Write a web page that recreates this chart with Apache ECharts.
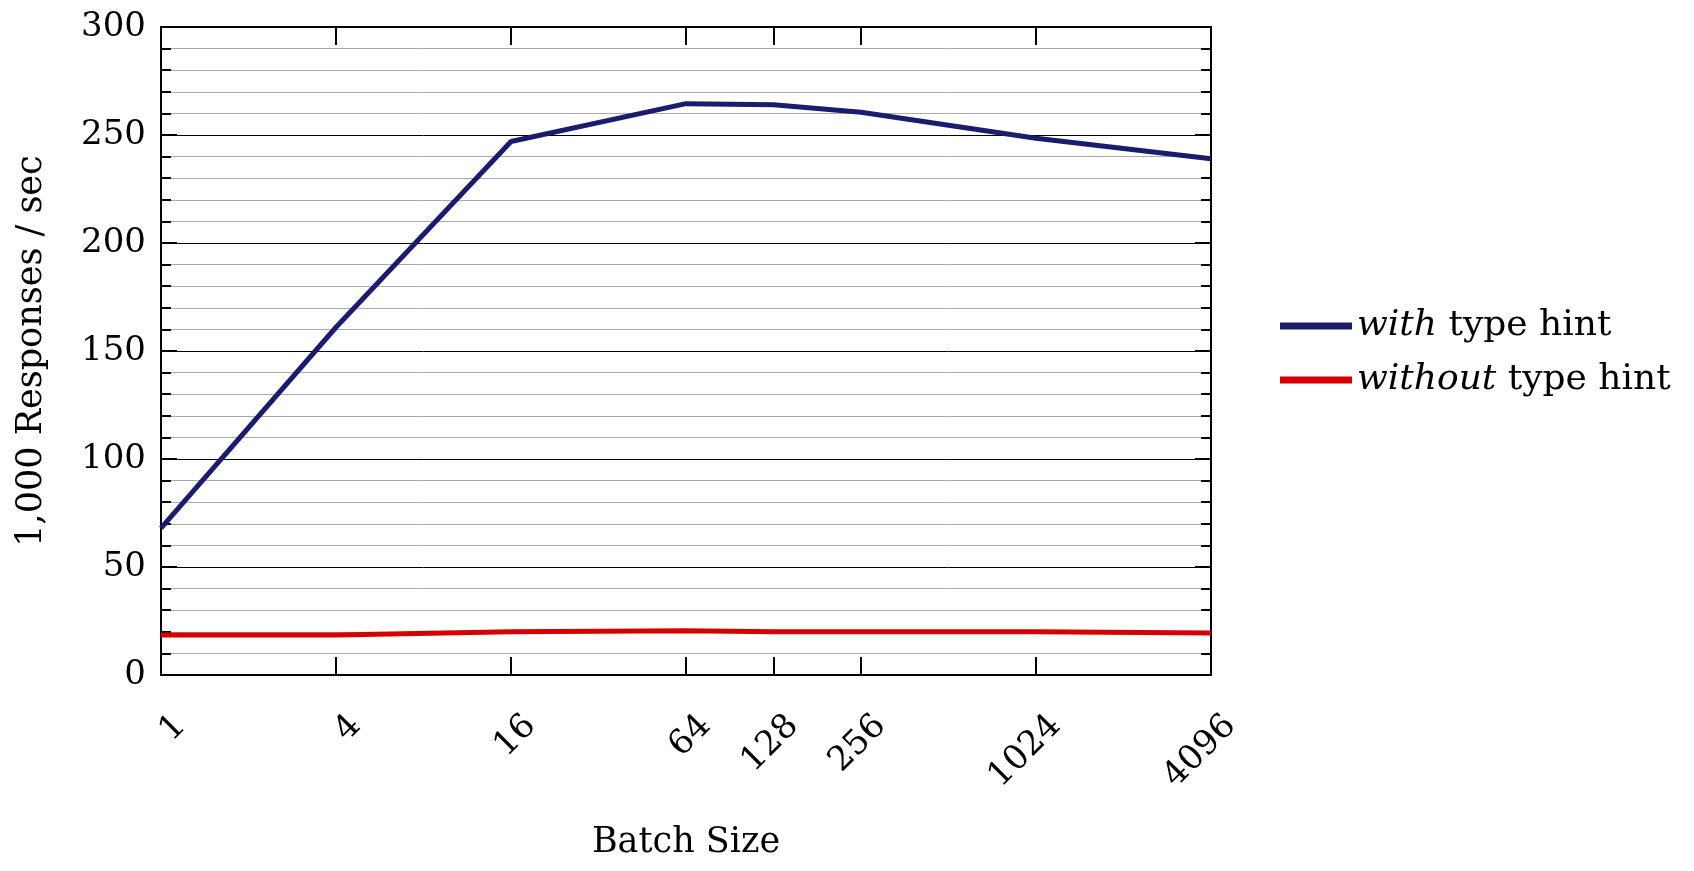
<!DOCTYPE html>
<html>
<head>
<meta charset="utf-8">
<script src="https://cdn.jsdelivr.net/npm/echarts@6/dist/echarts.min.js"></script>
<style>
  html, body { margin: 0; padding: 0; background: #fff; }
  #chart { width: 1694px; height: 871px; }
</style>
</head>
<body>
<div id="chart"></div>
<script>
const batchSizes = [1, 4, 16, 64, 128, 256, 1024, 4096]
const withHint = [68, 161, 247, 264.5, 264, 260.5, 248.5, 239]
const withoutHint = [18.5, 18.5, 20, 20.5, 20, 20, 20, 19.5]
const xTickValues = [1, 4, 16, 64, 128, 256, 1024, 4096]
const seriesNames = ['with type hint', 'without type hint']

const font = 'DejaVu Serif'
const chart = echarts.init(document.getElementById('chart'))

const pairs = (ys) => batchSizes.map((x, i) => [x, ys[i]])

// log2 x axis, used twice (bottom with labels, top as frame)
function xAxisOf(position, withLabels) {
  return {
    type: 'log',
    logBase: 2,
    min: 1,
    max: 4096,
    position,
    axisLine: { show: true, onZero: false, lineStyle: { color: '#000', width: 2 } },
    axisTick: {
      show: true,
      inside: true,
      length: 18,
      customValues: xTickValues.slice(),
      lineStyle: { color: '#000', width: 2 },
    },
    minorTick: { show: false },
    splitLine: { show: false },
    axisLabel: withLabels
      ? {
          rotate: 45,
          align: 'right',
          verticalAlign: 'top',
          lineHeight: 56,
          margin: 26,
          fontFamily: font,
          fontSize: 34,
          color: '#000',
          customValues: xTickValues.slice(),
          formatter: (v) => String(Math.round(v)),
        }
      : { show: false },
  }
}

function yAxisOf(position) {
  return {
    type: 'value',
    min: 0,
    max: 300,
    interval: 50,
    position,
    axisLine: { show: true, onZero: false, lineStyle: { color: '#000', width: 2 } },
    axisTick: { show: true, inside: true, length: 16, lineStyle: { color: '#000', width: 2 } },
    minorTick: { show: true, splitNumber: 5, length: 10, lineStyle: { color: '#000', width: 2 } },
  }
}

const bottomX = xAxisOf('bottom', true)
bottomX.name = 'Batch Size'
bottomX.nameLocation = 'middle'
bottomX.nameGap = 150
bottomX.nameTextStyle = { fontFamily: font, fontSize: 35, color: '#000' }

const leftY = yAxisOf('left')
leftY.name = '1,000 Responses / sec'
leftY.nameLocation = 'middle'
leftY.nameGap = 112
leftY.nameTextStyle = { fontFamily: font, fontSize: 35, color: '#000' }
leftY.axisLabel = { margin: 15, fontFamily: font, fontSize: 34, color: '#000' }
leftY.splitLine = { show: true, lineStyle: { color: '#000', width: 1 } }
leftY.minorSplitLine = { show: true, lineStyle: { color: '#aaa', width: 1 } }

const rightY = yAxisOf('right')
rightY.axisLabel = { show: false }
rightY.splitLine = { show: false }

chart.setOption({
  animation: false,
  backgroundColor: '#fff',
  textStyle: { fontFamily: font },
  grid: { left: 161, right: 483, top: 27, bottom: 196 },
  legend: {
    orient: 'vertical',
    left: 1275,
    top: 303,
    icon: 'rect',
    itemWidth: 72,
    itemHeight: 7,
    itemGap: 18,
    data: seriesNames,
    textStyle: {
      fontFamily: font,
      fontSize: 36,
      color: '#000',
      rich: { i: { fontFamily: font, fontSize: 36, fontStyle: 'italic', color: '#000' } },
    },
    formatter: (name) => name.replace(/^(\w+) /, '{i|$1} '),
  },
  xAxis: [bottomX, xAxisOf('top', false)],
  yAxis: [leftY, rightY],
  series: [
    {
      name: seriesNames[0],
      type: 'line',
      data: pairs(withHint),
      symbol: 'none',
      lineStyle: { width: 5, color: '#1c1c6e' },
      itemStyle: { color: '#1c1c6e' },
      z: 3,
    },
    {
      name: seriesNames[1],
      type: 'line',
      data: pairs(withoutHint),
      symbol: 'none',
      lineStyle: { width: 5, color: '#d70000' },
      itemStyle: { color: '#d70000' },
      z: 3,
    },
  ],
})
</script>
</body>
</html>
